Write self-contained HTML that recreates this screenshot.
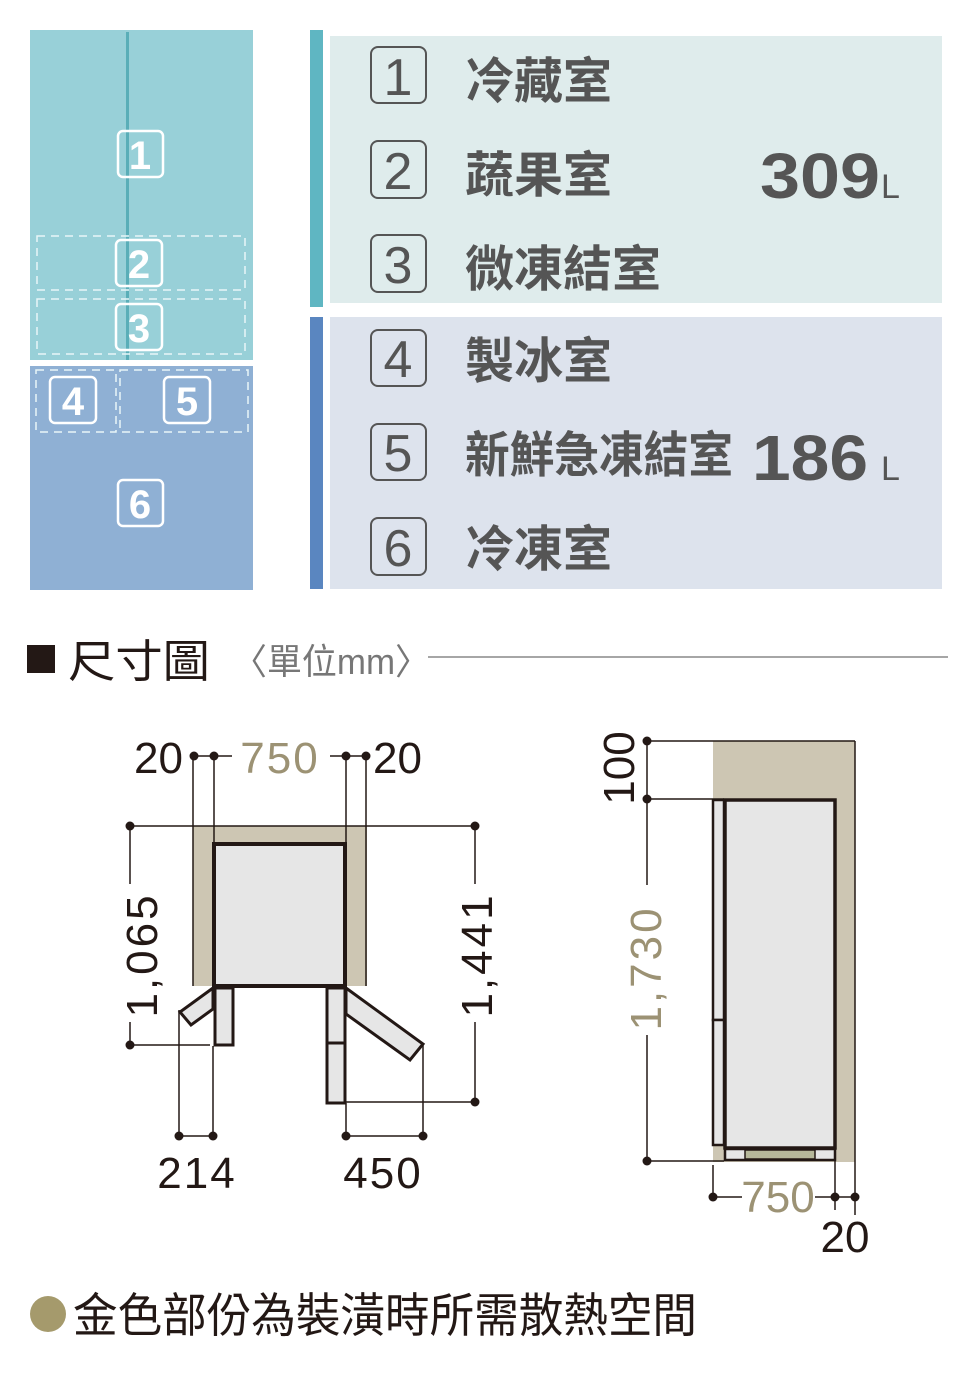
<!DOCTYPE html>
<html><head><meta charset="utf-8">
<style>
html,body{margin:0;padding:0;background:#fff;}
svg{display:block;}
.cj{font-family:"Liberation Sans","Noto Sans CJK TC",sans-serif;}
</style></head>
<body>
<svg width="976" height="1373" viewBox="0 0 976 1373" xmlns="http://www.w3.org/2000/svg" class="cj">
<!-- left schematic -->
<rect x="30" y="30" width="223" height="330" fill="#98d0d8"/>
<rect x="30" y="366" width="223" height="224" fill="#8fb0d4"/>
<line x1="127.5" y1="32" x2="127.5" y2="360" stroke="#5aaeb8" stroke-width="3"/>
<g fill="none" stroke="#e8f6f8" stroke-width="1.5" stroke-dasharray="8,6">
<rect x="37" y="236" width="208" height="54"/>
<rect x="37" y="299" width="208" height="55"/>
<rect x="36" y="370" width="80" height="62"/>
<rect x="120" y="370" width="128" height="62"/>
</g>
<g fill="none" stroke="#fff" stroke-width="2.5">
<rect x="118" y="131" width="45" height="46" rx="5"/>
<rect x="116" y="240" width="46" height="46" rx="5"/>
<rect x="116" y="304" width="46" height="46" rx="5"/>
<rect x="50" y="377" width="46" height="46" rx="5"/>
<rect x="164" y="377" width="46" height="46" rx="5"/>
<rect x="118" y="480" width="45" height="46" rx="5"/>
</g>
<g fill="#fff" font-weight="bold" font-size="40" text-anchor="middle">
<text x="140" y="169">1</text>
<text x="139" y="278">2</text>
<text x="139" y="342">3</text>
<text x="73" y="415">4</text>
<text x="187" y="415">5</text>
<text x="140" y="518">6</text>
</g>
<!-- right panels -->
<rect x="310" y="30" width="13" height="277" fill="#5fb6c2"/>
<rect x="330" y="36" width="612" height="267" fill="#dfecec"/>
<rect x="310" y="317" width="13" height="272" fill="#5a86c0"/>
<rect x="330" y="317" width="612" height="272" fill="#dde3ed"/>
<g fill="none" stroke="#555" stroke-width="2">
<rect x="371" y="47" width="55" height="56" rx="7"/>
<rect x="371" y="141" width="55" height="57" rx="7"/>
<rect x="371" y="235" width="55" height="57" rx="7"/>
<rect x="371" y="330" width="55" height="56" rx="7"/>
<rect x="371" y="424" width="55" height="56" rx="7"/>
<rect x="371" y="518" width="55" height="57" rx="7"/>
</g>
<g fill="#555" font-size="52" text-anchor="middle">
<text x="398" y="95">1</text>
<text x="398" y="189">2</text>
<text x="398" y="283">3</text>
<text x="398" y="377">4</text>
<text x="398" y="471">5</text>
<text x="398" y="566">6</text>
</g>
<g fill="#555" font-weight="bold" font-size="49">
<text x="465" y="98">冷藏室</text>
<text x="465" y="192">蔬果室</text>
<text x="465" y="286">微凍結室</text>
<text x="465" y="378">製冰室</text>
<text x="465" y="472" textLength="268" lengthAdjust="spacingAndGlyphs">新鮮急凍結室</text>
<text x="465" y="566">冷凍室</text>
<text x="760" y="198" font-size="64" textLength="120" lengthAdjust="spacingAndGlyphs">309</text>
<text x="752" y="480" font-size="64" textLength="116" lengthAdjust="spacingAndGlyphs">186</text>
</g>
<text x="881" y="198" fill="#555" font-size="34">L</text>
<text x="881" y="480" fill="#555" font-size="34">L</text>
<!-- heading -->
<rect x="27" y="645" width="28" height="28" fill="#231815"/>
<text x="68" y="677" font-size="45" fill="#231815" textLength="142" lengthAdjust="spacingAndGlyphs">尺寸圖</text>
<text x="232" y="674" font-size="36" fill="#777" textLength="198" lengthAdjust="spacingAndGlyphs">〈單位mm〉</text>
<line x1="428" y1="657" x2="948" y2="657" stroke="#888" stroke-width="1.5"/>
<!-- front view -->
<rect x="193" y="826" width="174" height="160" fill="#cdc6b3"/>
<rect x="214" y="844" width="131" height="142" fill="#e6e6e6" stroke="#231815" stroke-width="4"/>
<rect x="215" y="988" width="18" height="57" fill="#e6e6e6" stroke="#231815" stroke-width="3"/>
<polygon points="213,988 180,1012 191,1025 213,1009" fill="#e6e6e6" stroke="#231815" stroke-width="3"/>
<rect x="327" y="988" width="18" height="55" fill="#e6e6e6" stroke="#231815" stroke-width="3"/>
<rect x="327" y="1043" width="18" height="60" fill="#e6e6e6" stroke="#231815" stroke-width="3"/>
<polygon points="346,988 423,1044 410,1060 346,1014" fill="#e6e6e6" stroke="#231815" stroke-width="3"/>
<g stroke="#231815" stroke-width="1.5" fill="none">
<line x1="130" y1="826" x2="475" y2="826"/>
<line x1="130" y1="826" x2="130" y2="884"/>
<line x1="130" y1="1022" x2="130" y2="1045"/>
<line x1="130" y1="1045" x2="210" y2="1045"/>
<line x1="475" y1="826" x2="475" y2="884"/>
<line x1="475" y1="1022" x2="475" y2="1102"/>
<line x1="346" y1="1102" x2="475" y2="1102"/>
<line x1="193" y1="756" x2="193" y2="986"/>
<line x1="214" y1="756" x2="214" y2="844"/>
<line x1="346" y1="756" x2="346" y2="844"/>
<line x1="366" y1="756" x2="366" y2="986"/>
<line x1="193" y1="756" x2="214" y2="756"/>
<line x1="214" y1="756" x2="232" y2="756"/>
<line x1="330" y1="756" x2="366" y2="756"/>
<line x1="179" y1="1010" x2="179" y2="1136"/>
<line x1="213" y1="1046" x2="213" y2="1136"/>
<line x1="179" y1="1136" x2="213" y2="1136"/>
<line x1="346" y1="1103" x2="346" y2="1136"/>
<line x1="423" y1="1044" x2="423" y2="1136"/>
<line x1="346" y1="1136" x2="423" y2="1136"/>
</g>
<g fill="#231815">
<circle cx="130" cy="826" r="4.5"/><circle cx="475" cy="826" r="4.5"/>
<circle cx="130" cy="1045" r="4.5"/><circle cx="475" cy="1102" r="4.5"/>
<circle cx="194" cy="756" r="4.5"/><circle cx="214" cy="756" r="4.5"/>
<circle cx="346" cy="756" r="4.5"/><circle cx="366" cy="756" r="4.5"/>
<circle cx="179" cy="1136" r="4.5"/><circle cx="213" cy="1136" r="4.5"/>
<circle cx="346" cy="1136" r="4.5"/><circle cx="423" cy="1136" r="4.5"/>
</g>
<g font-size="44" fill="#231815">
<text x="183" y="773" text-anchor="end">20</text>
<text x="373" y="773">20</text>
<text x="197" y="1188" text-anchor="middle" letter-spacing="2">214</text>
<text x="383" y="1188" text-anchor="middle" letter-spacing="2">450</text>
<text transform="translate(157,955) rotate(-90)" text-anchor="middle" letter-spacing="3">1,065</text>
<text transform="translate(492,955) rotate(-90)" text-anchor="middle" letter-spacing="3">1,441</text>
</g>
<text x="280" y="773" font-size="44" fill="#9c9274" text-anchor="middle" letter-spacing="2">750</text>
<!-- side view -->
<rect x="713" y="741" width="142" height="421" fill="#cdc6b3"/>
<rect x="725" y="800" width="110" height="348" fill="#e6e6e6" stroke="#231815" stroke-width="3.5"/>
<rect x="713" y="800" width="11" height="220" fill="#e6e6e6" stroke="#231815" stroke-width="2.5"/>
<rect x="713" y="1020" width="11" height="125" fill="#e6e6e6" stroke="#231815" stroke-width="2.5"/>
<rect x="725" y="1149" width="110" height="11" fill="#e6e6e6" stroke="#231815" stroke-width="2.5"/>
<rect x="745" y="1150" width="70" height="9" fill="#b6b89a" stroke="#231815" stroke-width="1.5"/>
<g stroke="#231815" stroke-width="1.5" fill="none">
<line x1="647" y1="741" x2="855" y2="741"/>
<line x1="855" y1="741" x2="855" y2="1215"/>
<line x1="647" y1="799" x2="724" y2="799"/>
<line x1="647" y1="1161" x2="724" y2="1161"/>
<line x1="647" y1="741" x2="647" y2="885"/>
<line x1="647" y1="1035" x2="647" y2="1161"/>
<line x1="713" y1="1165" x2="713" y2="1197"/>
<line x1="835" y1="1160" x2="835" y2="1210"/>
<line x1="713" y1="1197" x2="742" y2="1197"/>
<line x1="815" y1="1197" x2="855" y2="1197"/>
</g>
<g fill="#231815">
<circle cx="647" cy="741" r="4.5"/><circle cx="647" cy="799" r="4.5"/><circle cx="647" cy="1161" r="4.5"/>
<circle cx="713" cy="1197" r="4.5"/><circle cx="835" cy="1197" r="4.5"/><circle cx="855" cy="1197" r="4.5"/>
</g>
<text transform="translate(634,768) rotate(-90)" font-size="44" fill="#231815" text-anchor="middle">100</text>
<text transform="translate(661,968) rotate(-90)" font-size="44" fill="#9c9274" text-anchor="middle" letter-spacing="3">1,730</text>
<text x="778" y="1212" font-size="44" fill="#9c9274" text-anchor="middle">750</text>
<text x="845" y="1252" font-size="44" fill="#231815" text-anchor="middle">20</text>
<!-- footer -->
<circle cx="48" cy="1314" r="18" fill="#a59a6c"/>
<text x="73" y="1332" font-size="47" fill="#231815" textLength="624" lengthAdjust="spacingAndGlyphs">金色部份為裝潢時所需散熱空間</text>
</svg>
</body></html>
